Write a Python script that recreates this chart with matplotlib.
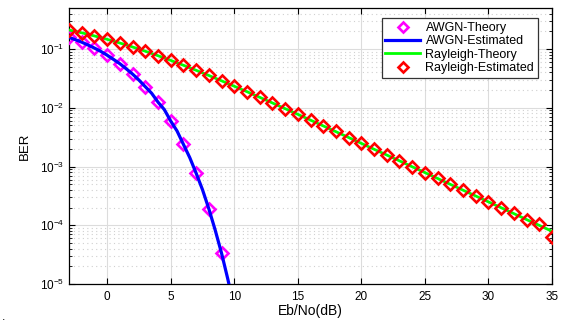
import matplotlib
matplotlib.use("Agg")
import matplotlib.pyplot as plt
from matplotlib.ticker import LogLocator, NullFormatter, FixedLocator

plt.rcParams['font.family'] = ['Liberation Sans', 'DejaVu Sans']
plt.rcParams['mathtext.fontset'] = 'custom'
plt.rcParams['mathtext.rm'] = 'Liberation Sans'

# AWGN theory markers (dB, BER)
awgn_theory_snr = [-3, -2, -1, 0, 1, 2, 3, 4, 5, 6, 7, 8, 9]
awgn_theory_ber = [0.158, 0.131, 0.104, 0.0786, 0.0563, 0.0375, 0.0229,
                   0.0125, 0.00595, 0.00239, 0.000773, 0.000191, 3.36e-5]

# AWGN estimated curve
awgn_est_snr = [-3, -2.5, -2, -1.5, -1, -0.5, 0, 0.5, 1, 1.5, 2, 2.5, 3, 3.5,
                4, 4.5, 5, 5.5, 6, 6.5, 7, 7.5, 8, 8.5, 9, 9.5, 10]
awgn_est_ber = [0.158, 0.1444, 0.131, 0.1172, 0.104, 0.0913, 0.0786, 0.0667,
                0.0563, 0.0462, 0.0375, 0.0297, 0.0229, 0.0177, 0.0125, 0.00932,
                0.00595, 0.00403, 0.00239, 0.00142, 0.000773, 0.000405,
                0.000191, 8.3e-5, 3.36e-5, 1.2e-5, 3.87e-6]

# Rayleigh theory curve
ray_snr = list(range(-3, 36))
ray_theory_ber = [0.2111, 0.1890, 0.1673, 0.1464, 0.1267, 0.1085, 0.0919,
                  0.0771, 0.0642, 0.0530, 0.0435, 0.0355, 0.0288, 0.0233,
                  0.0188, 0.0151, 0.0121, 0.00967, 0.00774, 0.00617, 0.00492,
                  0.00392, 0.00312, 0.00248, 0.00197, 0.00157, 0.00125,
                  0.000992, 0.000789, 0.000627, 0.000498, 0.000396, 0.000315,
                  0.000250, 0.000199, 0.000158, 0.000125, 0.0000995, 0.0000790]

# Rayleigh estimated markers
ray_est_ber = [0.2115, 0.1885, 0.1675, 0.1462, 0.1270, 0.1083, 0.0921,
               0.0770, 0.0643, 0.0528, 0.0436, 0.0356, 0.0287, 0.0234,
               0.0187, 0.0152, 0.0120, 0.00970, 0.00772, 0.00620, 0.00490,
               0.00395, 0.00310, 0.00250, 0.00196, 0.00158, 0.00124,
               0.000995, 0.000785, 0.000630, 0.000495, 0.000398, 0.000312,
               0.000252, 0.000197, 0.000160, 0.000123, 0.000105, 0.0000640]

x_ticks = [0, 5, 10, 15, 20, 25, 30, 35]

fig = plt.figure(figsize=(5.64, 3.22), dpi=100)
ax = fig.add_axes([69/564, 38/322, 483/564, 276/322])

ax.semilogy(awgn_theory_snr, awgn_theory_ber, linestyle='none', marker='D',
            markersize=5.8, markerfacecolor='none', markeredgecolor='#ff00ff',
            markeredgewidth=1.9, label='AWGN-Theory', zorder=3)
ax.semilogy(awgn_est_snr, awgn_est_ber, color='#0000ff', linewidth=2.3,
            label='AWGN-Estimated', zorder=4)
ax.semilogy(ray_snr, ray_theory_ber, color='#00ff00', linewidth=2.0,
            label='Rayleigh-Theory', zorder=3)
ax.semilogy(ray_snr, ray_est_ber, linestyle='none', marker='D',
            markersize=5.8, markerfacecolor='none', markeredgecolor='#ff0000',
            markeredgewidth=1.9, label='Rayleigh-Estimated', zorder=4)

ax.set_xlim(-3, 35)
ax.set_ylim(1e-5, 0.5)
ax.xaxis.set_major_locator(FixedLocator(x_ticks))
ax.yaxis.set_major_locator(LogLocator(base=10, numticks=10))
ax.yaxis.set_minor_locator(LogLocator(base=10, subs=range(2, 10), numticks=20))
ax.yaxis.set_minor_formatter(NullFormatter())

ax.grid(True, which='major', color='#dcdcdc', linewidth=0.8, linestyle='-')
ax.grid(True, which='minor', axis='y', color='#d0d0d0', linewidth=0.8,
        linestyle=(0, (1, 3)))
ax.set_axisbelow(True)

ax.tick_params(which='both', direction='in', top=True, right=True,
               labelsize=8.5, colors='black')
ax.tick_params(which='major', length=4)
ax.tick_params(which='minor', length=2.5)
ax.tick_params(axis='x', pad=5)
for s in ax.spines.values():
    s.set_color('black')
    s.set_linewidth(0.9)

ax.set_xlabel('Eb/No(dB)', fontsize=10, labelpad=1)
ax.set_ylabel('BER', fontsize=9.5, labelpad=6)

leg = ax.legend(loc='upper right', bbox_to_anchor=(0.971, 0.962),
                borderaxespad=0, fontsize=9, fancybox=False, framealpha=1,
                edgecolor='#333333', handlelength=2.8, handletextpad=0.4,
                labelspacing=0.1, borderpad=0.3, markerscale=0.9)
leg.get_frame().set_linewidth(0.9)

fig.text(0.004, 0.005, '.', fontsize=9, color='black')

fig.savefig('out.png', dpi=100)
